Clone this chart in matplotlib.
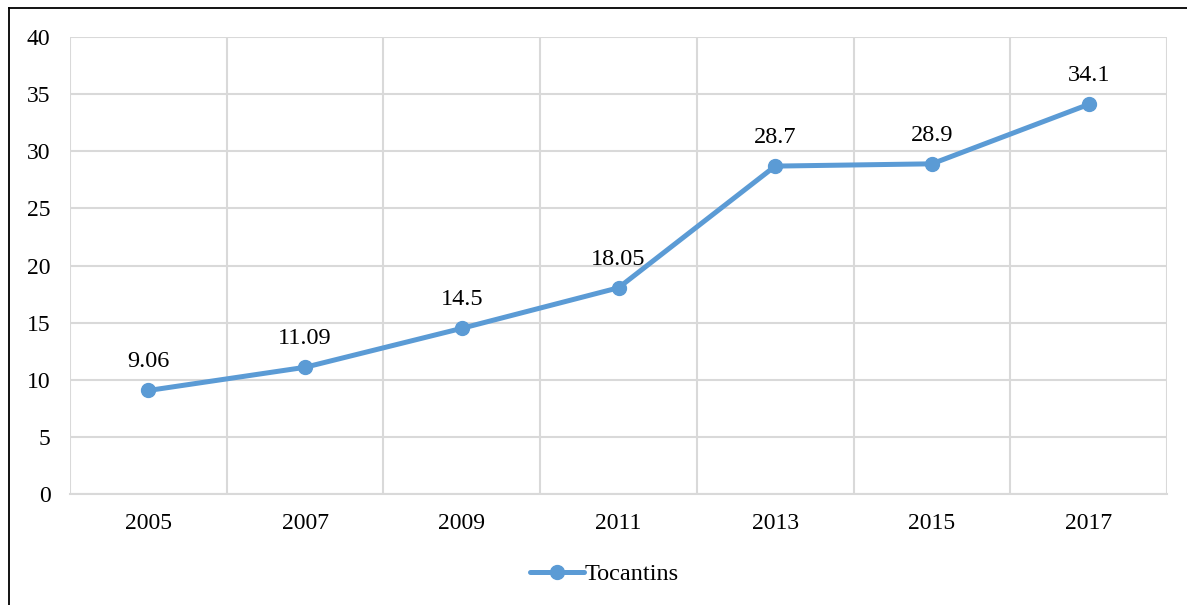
import matplotlib.pyplot as plt
from matplotlib.lines import Line2D

years = ['2005', '2007', '2009', '2011', '2013', '2015', '2017']
values = [9.06, 11.09, 14.5, 18.05, 28.7, 28.9, 34.1]
value_labels = ['9.06', '11.09', '14.5', '18.05', '28.7', '28.9', '34.1']
series_name = 'Tocantins'

plt.rcParams['font.family'] = ['Liberation Serif', 'DejaVu Serif']

W, H = 1187, 605
fig = plt.figure(figsize=(W / 100, H / 100), dpi=100)
ax = fig.add_axes([70 / W, 1 - 494 / H, (1167 - 70) / W, (494 - 37) / H])

blue = '#5B9BD5'
grid = '#D9D9D9'
x = list(range(len(years)))

ax.plot(x, values, color=blue, lw=3.6, marker='o', ms=10, solid_capstyle='round',
        label=series_name, zorder=3)
for xi, v, lab in zip(x, values, value_labels):
    ax.annotate(lab, (xi, v), xytext=(0, 13), textcoords='offset points',
                ha='center', va='bottom', fontsize=17.5)

ax.set_xlim(-0.5, len(years) - 0.5)
ax.set_ylim(0, 40)
ax.set_yticks(range(0, 41, 5))
ax.set_xticks(x)
ax.set_xticklabels(years)
ax.set_xticks([i - 0.5 for i in range(len(years) + 1)], minor=True)
ax.grid(True, which='minor', axis='x', color=grid, lw=1.5)
ax.grid(True, which='major', axis='y', color=grid, lw=1.5)
ax.set_axisbelow(True)
for side in ax.spines:
    ax.spines[side].set_visible(False)
ax.spines['bottom'].set_visible(True)
ax.spines['bottom'].set_color(grid)
ax.spines['bottom'].set_linewidth(1.5)
ax.tick_params(which='both', length=0, labelsize=17)
ax.tick_params(axis='x', pad=13.5)
ax.tick_params(axis='y', pad=14)

fig.legend(handles=[Line2D([], [], color=blue, lw=3.6, marker='o', ms=10,
                           solid_capstyle='round')],
           labels=[series_name], loc='center', bbox_to_anchor=(0.5095, 1 - 574 / H),
           frameon=False, fontsize=17.5, handlelength=2.2, handletextpad=0.05)

# outer frame, left and top edges
fig.add_artist(Line2D([8.5 / W, 8.5 / W], [0, 1 - 7.5 / H], color='black', lw=1.3,
                      transform=fig.transFigure))
fig.add_artist(Line2D([8.5 / W, 1], [1 - 7.5 / H, 1 - 7.5 / H], color='black', lw=1.3,
                      transform=fig.transFigure))

fig.savefig('out.png', dpi=100)
